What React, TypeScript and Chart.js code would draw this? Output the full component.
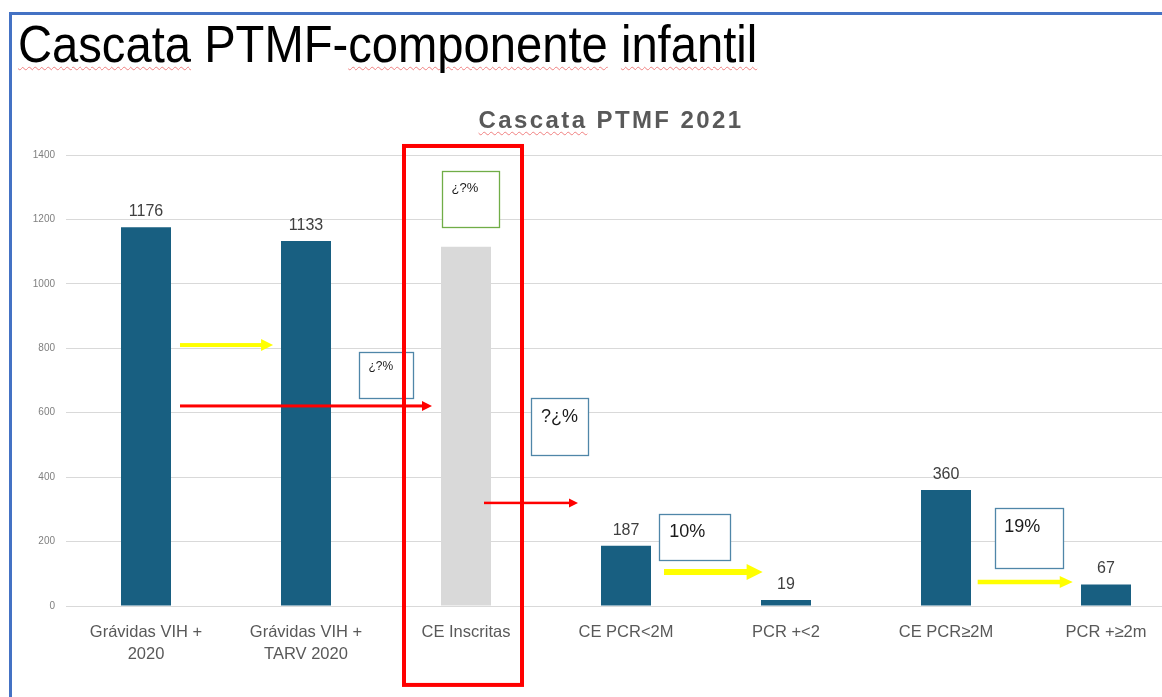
import React, { useEffect, useRef } from "react";
import { Chart, registerables } from "chart.js";

Chart.register(...registerables);

// ---- data ----
const categories: (string | string[])[] = [
  ["Grávidas VIH +", "2020"],
  ["Grávidas VIH +", "TARV 2020"],
  "CE Inscritas",
  "CE PCR<2M",
  "PCR +<2",
  "CE PCR≥2M",
  "PCR +≥2m",
];
const values = [1176, 1133, 1115, 187, 19, 360, 67];
const valueLabels = ["1176", "1133", "", "187", "19", "360", "67"];
const barColors = ["#185f81", "#185f81", "#d9d9d9", "#185f81", "#185f81", "#185f81", "#185f81"];
const yMin = 0;
const yMax = 1400;
const yStep = 200;

// ---- annotations (in data units: x = category index, y = axis value) ----
const noteBoxes = [
  { x0: 1.849, x1: 2.208, y0: 1351, y1: 1176, text: "¿?%", tx: 1.91, ty: 1297, size: 13, color: "#70ad47" },
  { x0: 1.333, x1: 1.67, y0: 787, y1: 645, text: "¿?%", tx: 1.39, ty: 743, size: 12, color: "#4f86a8" },
  { x0: 2.408, x1: 2.764, y0: 645, y1: 469, text: "?¿%", tx: 2.469, ty: 588, size: 18, color: "#4f86a8" },
  { x0: 3.208, x1: 3.648, y0: 286, y1: 143, text: "10%", tx: 3.27, ty: 231, size: 18, color: "#4f86a8" },
  { x0: 5.304, x1: 5.731, y0: 303, y1: 118, text: "19%", tx: 5.364, ty: 246, size: 18, color: "#4f86a8" },
];
const arrows = [
  { x0: 0.2125, x1: 0.794, y: 810, color: "#ffff00", width: 4, head: 12, headW: 12 },
  { x0: 0.2125, x1: 1.7875, y: 621, color: "#ff0000", width: 3, head: 10, headW: 10 },
  { x0: 2.1125, x1: 2.7, y: 320, color: "#ff0000", width: 2.5, head: 9, headW: 9 },
  { x0: 3.2375, x1: 3.854, y: 105.5, color: "#ffff00", width: 6, head: 16, headW: 16 },
  { x0: 5.198, x1: 5.792, y: 74.5, color: "#ffff00", width: 4.5, head: 13, headW: 12 },
];
const focusFrame = { x0: 1.6125, x1: 2.35, y0: 1428, y1: -245, color: "#ff0000", width: 4 };

const annotationPlugin = {
  id: "annotations",
  afterDatasetsDraw(chart: any) {
    const ctx = chart.ctx as CanvasRenderingContext2D;
    const xs = chart.scales.x;
    const ys = chart.scales.y;
    const X = (v: number) => xs.getPixelForValue(v);
    const Y = (v: number) => ys.getPixelForValue(v);

    // value labels
    const meta = chart.getDatasetMeta(0);
    ctx.save();
    ctx.font = "16px 'Liberation Sans', Arial, sans-serif";
    ctx.fillStyle = "#404040";
    ctx.textAlign = "center";
    ctx.textBaseline = "alphabetic";
    meta.data.forEach((bar: any, i: number) => {
      if (!valueLabels[i]) return;
      ctx.fillText(valueLabels[i], bar.x, bar.y - 11);
    });
    ctx.restore();

    // boxes
    noteBoxes.forEach((b) => {
      const l = Math.round(X(b.x0)) + 0.5;
      const r = Math.round(X(b.x1)) + 0.5;
      const t = Math.round(Y(b.y0)) + 0.5;
      const bt = Math.round(Y(b.y1)) + 0.5;
      ctx.save();
      ctx.fillStyle = "#ffffff";
      ctx.fillRect(l, t, r - l, bt - t);
      ctx.strokeStyle = b.color;
      ctx.lineWidth = 1.3;
      ctx.strokeRect(l, t, r - l, bt - t);
      ctx.fillStyle = "#1a1a1a";
      ctx.font = `${b.size}px 'Liberation Sans', Arial, sans-serif`;
      ctx.textAlign = "left";
      ctx.textBaseline = "middle";
      ctx.fillText(b.text, X(b.tx), Y(b.ty));
      ctx.restore();
    });

    // arrows
    arrows.forEach((a) => {
      const x0 = X(a.x0);
      const x1 = X(a.x1);
      const y = Y(a.y);
      ctx.save();
      ctx.fillStyle = a.color;
      ctx.fillRect(x0, y - a.width / 2, x1 - a.head - x0 + 1, a.width);
      ctx.beginPath();
      ctx.moveTo(x1, y);
      ctx.lineTo(x1 - a.head, y - a.headW / 2);
      ctx.lineTo(x1 - a.head, y + a.headW / 2);
      ctx.closePath();
      ctx.fill();
      ctx.restore();
    });

    // red focus frame
    ctx.save();
    ctx.strokeStyle = focusFrame.color;
    ctx.lineWidth = focusFrame.width;
    const fl = X(focusFrame.x0);
    const fr = X(focusFrame.x1);
    const ft = Y(focusFrame.y0);
    const fb = Y(focusFrame.y1);
    ctx.strokeRect(fl, ft, fr - fl, fb - ft);
    ctx.restore();
  },
};

function CascadeChart() {
  const ref = useRef<HTMLCanvasElement | null>(null);
  useEffect(() => {
    if (!ref.current) return;
    const chart = new Chart(ref.current, {
      type: "bar",
      data: {
        labels: categories,
        datasets: [
          {
            data: values,
            backgroundColor: barColors,
            categoryPercentage: 1,
            barPercentage: 0.3125,
          },
        ],
      },
      options: {
        responsive: false,
        animation: false,
        layout: { padding: { top: 155, left: 0, right: 0, bottom: 0 } },
        plugins: {
          legend: { display: false },
          tooltip: { enabled: false },
          title: { display: false },
        },
        scales: {
          x: {
            grid: { display: false, drawTicks: false },
            border: { display: true, color: "#d9d9d9", width: 1 },
            ticks: {
              color: "#595959",
              font: { family: "'Liberation Sans', Arial, sans-serif", size: 16.5, lineHeight: 1.35 },
              padding: 15,
              maxRotation: 0,
              minRotation: 0,
              autoSkip: false,
            },
            afterFit(scale: any) {
              scale.height = 91;
            },
          },
          y: {
            min: yMin,
            max: yMax,
            grid: { color: "#d9d9d9", lineWidth: 1, drawTicks: false },
            border: { display: false },
            ticks: {
              stepSize: yStep,
              color: "#7f7f7f",
              font: { family: "'Liberation Sans', Arial, sans-serif", size: 10 },
              padding: 11,
              callback: (v: any) => String(v),
            },
            afterFit(scale: any) {
              scale.width = 66;
            },
          },
        },
      },
      plugins: [annotationPlugin],
    });
    return () => chart.destroy();
  }, []);
  return (
    <canvas
      ref={ref}
      width={1186}
      height={697}
      style={{ position: "absolute", left: 0, top: 0, width: 1186, height: 697 }}
    />
  );
}

const squiggle: React.CSSProperties = {
  textDecorationLine: "underline",
  textDecorationStyle: "wavy",
  textDecorationColor: "#f08080",
  textDecorationThickness: "1px",
  textUnderlineOffset: "4px",
};

export default function App() {
  return (
    <div
      style={{
        position: "fixed",
        left: 0,
        top: 0,
        width: 1162,
        height: 697,
        overflow: "hidden",
        background: "#ffffff",
      }}
    >
      <CascadeChart />
      {/* slide frame */}
      <div style={{ position: "absolute", left: 9, top: 12, width: 1153, height: 3, background: "#4472c4" }} />
      <div style={{ position: "absolute", left: 9, top: 12, width: 3, height: 685, background: "#4472c4" }} />
      {/* slide title */}
      <div
        style={{
          position: "absolute",
          left: 18,
          top: 18,
          fontFamily: "'Liberation Sans', Arial, sans-serif",
          fontSize: 52,
          lineHeight: "52px",
          color: "#000000",
          whiteSpace: "nowrap",
          transform: "scaleX(0.907)",
          transformOrigin: "0 0",
        }}
      >
        <span style={squiggle}>Cascata</span> PTMF-<span style={squiggle}>componente</span>{" "}
        <span style={squiggle}>infantil</span>
      </div>
      {/* chart title */}
      <div
        style={{
          position: "absolute",
          left: 611,
          top: 108,
          transform: "translateX(-50%)",
          fontFamily: "'Liberation Sans', Arial, sans-serif",
          fontWeight: "bold",
          fontSize: 24,
          lineHeight: "24px",
          color: "#595959",
          whiteSpace: "nowrap",
          letterSpacing: "2.4px",
        }}
      >
        <span style={{ ...squiggle, textUnderlineOffset: "3px" }}>Cascata</span> PTMF 2021
      </div>
    </div>
  );
}
